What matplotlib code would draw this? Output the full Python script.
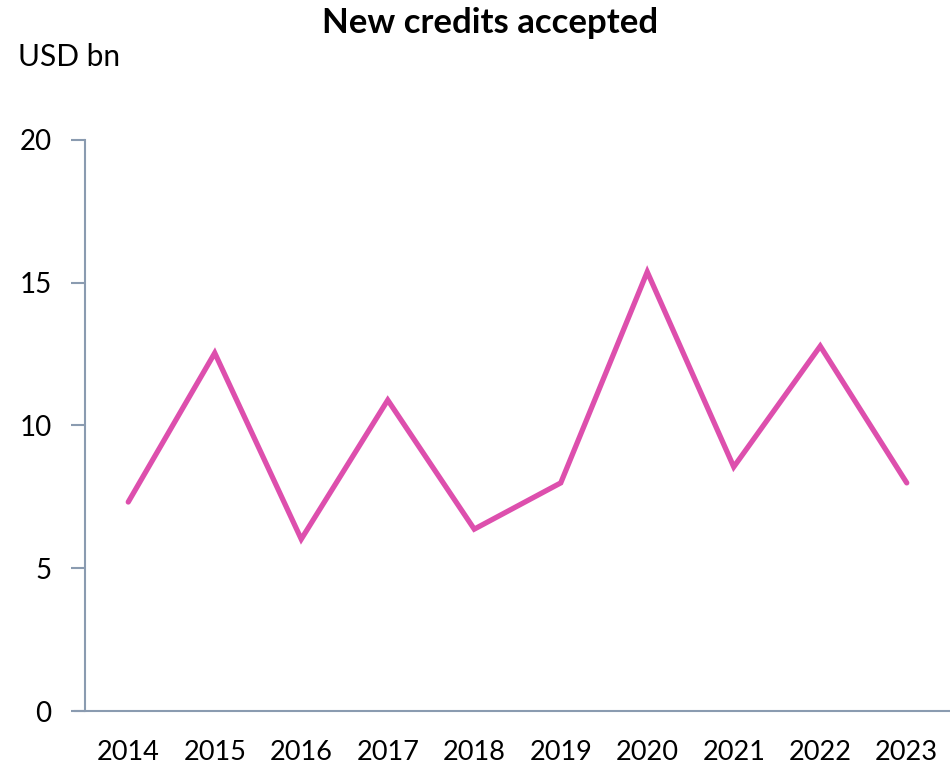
import matplotlib.pyplot as plt

years = ["2014", "2015", "2016", "2017", "2018", "2019", "2020", "2021", "2022", "2023"]
credits = [7.32, 12.54, 6.02, 10.89, 6.37, 7.99, 15.38, 8.55, 12.78, 7.99]
y_ticks = [0, 5, 10, 15, 20]

plt.rcParams['font.family'] = ['Lato', 'DejaVu Sans']

fig = plt.figure(figsize=(9.5, 7.67), dpi=100)
ax = fig.add_axes([85 / 950, 1 - 711 / 767, 865 / 950, (711 - 140) / 767])

x = range(len(years))
ax.plot(x, credits, color='#DD4FAD', linewidth=3.8, solid_capstyle='round',
        solid_joinstyle='miter', clip_on=False)

axis_color = '#8A9BB0'
ax.set_xlim(-0.5, len(years) - 0.5)
ax.set_ylim(0, 20)
ax.set_xticks(list(x))
ax.set_xticklabels(years)
ax.set_yticks(y_ticks)

for side in ['top', 'right']:
    ax.spines[side].set_visible(False)
ax.spines['left'].set_color(axis_color)
ax.spines['bottom'].set_color(axis_color)
ax.spines['left'].set_linewidth(1.5)
ax.spines['bottom'].set_linewidth(1.5)
ax.spines['bottom'].set_bounds(-0.5 - 10 / 86.5, len(years) - 0.5)

ax.tick_params(axis='y', direction='out', length=10, width=1.5, color=axis_color,
               labelsize=20, pad=14)
ax.tick_params(axis='x', length=0, labelsize=19.5, pad=21)

fig.text(490 / 950, 1 - 23 / 767, "New credits accepted", ha='center', va='center',
         fontsize=25, fontweight='bold')
fig.text(18 / 950, 1 - 57 / 767, "USD bn", ha='left', va='center', fontsize=21.5)

fig.savefig("out.png", dpi=100)
